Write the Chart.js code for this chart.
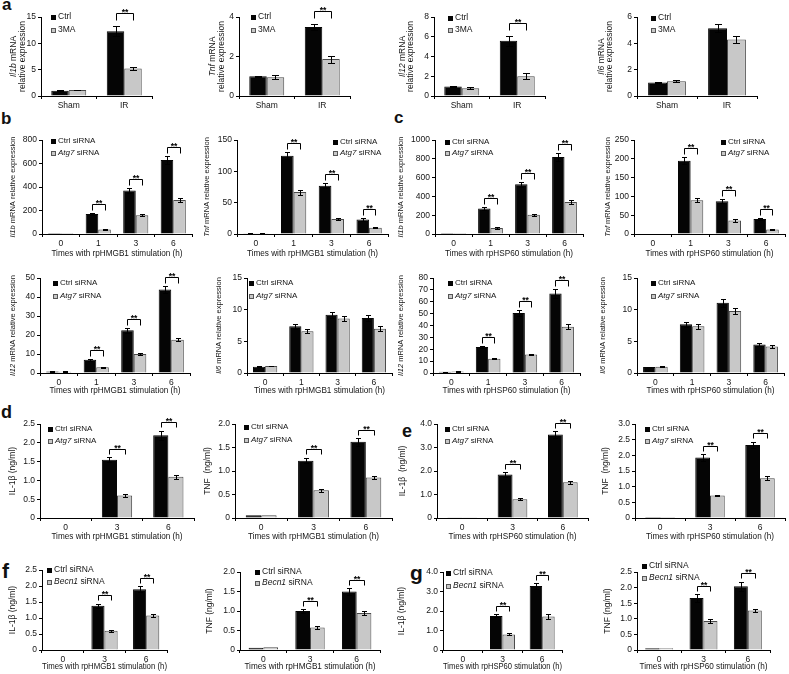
<!DOCTYPE html>
<html lang="en">
<head>
<meta charset="UTF-8">
<title>Cytokine expression panels a-g</title>
<script src="https://cdn.jsdelivr.net/npm/chart.js"></script>
<style>
  html, body { margin: 0; padding: 0; background: #fff; }
  #fig { position: relative; width: 789px; height: 674px; overflow: hidden; background: #fff;
         font-family: "Liberation Sans", Arial, sans-serif; }
  #fig canvas { position: absolute; }
  .tag { position: absolute; font-weight: bold; line-height: 1; color: #111; }
</style>
</head>
<body>
<div id="fig">
  <div class="tag" style="left:2px;top:-4px;font-size:17px">a</div>
  <div class="tag" style="left:1px;top:110px;font-size:17px">b</div>
  <div class="tag" style="left:394px;top:109px;font-size:17px">c</div>
  <div class="tag" style="left:1px;top:403px;font-size:18px">d</div>
  <div class="tag" style="left:402px;top:422px;font-size:18px">e</div>
  <div class="tag" style="left:2px;top:560px;font-size:21px">f</div>
  <div class="tag" style="left:410px;top:562px;font-size:21px">g</div>
</div>
<script>
// categories
const catsIR = ['Sham', 'IR'];
const catsHours = ['0', '1', '3', '6'];
const catsElisa = ['0', '3', '6'];

// legend names (*...* = italic)
const namesA = ['Ctrl', '3MA'];
const namesAtg = ['Ctrl siRNA', '*Atg7* siRNA'];
const namesBecn = ['Ctrl siRNA', '*Becn1* siRNA'];
const hmgb = 'Times with rpHMGB1 stimulation (h)';
const hsp = 'Times with rpHSP60 stimulation (h)';

// a: IR vs sham, Ctrl vs 3MA
const a1Ctrl = [1.0, 12.3], a1CtrlErr = [0.05, 1.0], a1Trt = [1.15, 5.2], a1TrtErr = [0.05, 0.3];
const a2Ctrl = [1.0, 3.5], a2CtrlErr = [0.03, 0.15], a2Trt = [0.95, 1.87], a2TrtErr = [0.1, 0.18];
const a3Ctrl = [0.95, 5.6], a3CtrlErr = [0.05, 0.5], a3Trt = [0.78, 2.0], a3TrtErr = [0.1, 0.28];
const a4Ctrl = [1.02, 5.15], a4CtrlErr = [0.03, 0.3], a4Trt = [1.12, 4.3], a4TrtErr = [0.06, 0.25];

// b / c: mRNA after rpHMGB1 / rpHSP60
const b1Ctrl = [1, 170, 370, 630], b1CtrlErr = [0.1, 10, 20, 30], b1Trt = [1, 38, 160, 290], b1TrtErr = [0.1, 4, 10, 18];
const b2Ctrl = [1, 125, 77, 23], b2CtrlErr = [0.1, 6, 4, 2], b2Trt = [1, 67, 24, 10], b2TrtErr = [0.1, 4, 2, 1];
const c1Ctrl = [1, 270, 530, 820], c1CtrlErr = [0.1, 15, 25, 45], c1Trt = [1, 65, 205, 340], c1TrtErr = [0.1, 8, 12, 20];
const c2Ctrl = [1, 195, 87, 40], c2CtrlErr = [0.1, 10, 5, 3], c2Trt = [1, 90, 36, 12], c2TrtErr = [0.1, 5, 3, 2];
const b3Ctrl = [0.8, 7, 22.5, 44], b3CtrlErr = [0.1, 0.6, 1.2, 2], b3Trt = [0.7, 3, 10, 17.5], b3TrtErr = [0.1, 0.3, 0.5, 0.8];
const b4Ctrl = [1.0, 7.4, 9.2, 8.7], b4CtrlErr = [0.05, 0.4, 0.5, 0.5], b4Trt = [1.1, 6.6, 8.6, 7.0], b4TrtErr = [0.05, 0.3, 0.4, 0.4];
const c3Ctrl = [1.0, 22, 50.5, 67], c3CtrlErr = [0.1, 1, 2.5, 3.5], c3Trt = [1.2, 12, 15.5, 39], c3TrtErr = [0.1, 0.5, 0.7, 2];
const c4Ctrl = [0.95, 7.7, 11.1, 4.5], c4CtrlErr = [0.05, 0.4, 0.6, 0.25], c4Trt = [1.0, 7.4, 9.8, 4.2], c4TrtErr = [0.05, 0.4, 0.5, 0.2];

// d / e / f / g: secreted protein (ng/ml)
const d1Ctrl = [0, 1.55, 2.2], d1CtrlErr = [0, 0.07, 0.12], d1Trt = [0, 0.6, 1.1], d1TrtErr = [0, 0.03, 0.05];
const d2Ctrl = [0.06, 1.22, 1.62], d2CtrlErr = [0, 0.06, 0.08], d2Trt = [0.06, 0.59, 0.86], d2TrtErr = [0, 0.03, 0.04];
const e1Ctrl = [0.03, 1.85, 3.55], e1CtrlErr = [0, 0.1, 0.15], e1Trt = [0.03, 0.8, 1.52], e1TrtErr = [0, 0.04, 0.07];
const e2Ctrl = [0.03, 1.93, 2.33], e2CtrlErr = [0, 0.1, 0.1], e2Trt = [0.03, 0.72, 1.27], e2TrtErr = [0, 0.03, 0.07];
const f1Ctrl = [0, 1.38, 1.9], f1CtrlErr = [0, 0.06, 0.1], f1Trt = [0, 0.6, 1.08], f1TrtErr = [0, 0.03, 0.05];
const f2Ctrl = [0.06, 1.0, 1.5], f2CtrlErr = [0, 0.05, 0.08], f2Trt = [0.07, 0.58, 0.95], f2TrtErr = [0, 0.03, 0.04];
const g1Ctrl = [0.03, 1.75, 3.28], g1CtrlErr = [0, 0.08, 0.15], g1Trt = [0.03, 0.8, 1.72], g1TrtErr = [0, 0.05, 0.15];
const g2Ctrl = [0.06, 1.67, 2.04], g2CtrlErr = [0, 0.12, 0.15], g2Trt = [0.06, 0.93, 1.27], g2TrtErr = [0, 0.05, 0.06];

// y tick labels
const ticksA1 = ['0', '5', '10', '15'];
const ticksA2 = ['0', '2', '4'];
const ticksA3 = ['0', '2', '4', '6', '8'];
const ticksA4 = ['0', '2', '4', '6'];
const ticksB1 = ['0', '200', '400', '600', '800'];
const ticksB2 = ['0', '50', '100', '150'];
const ticksC1 = ['0', '200', '400', '600', '800', '1000'];
const ticksC2 = ['0', '50', '100', '150', '200', '250'];
const ticksB3 = ['0', '10', '20', '30', '40', '50'];
const ticksIl6 = ['0', '5', '10', '15'];
const ticksC3 = ['0', '10', '20', '30', '40', '50', '60', '70', '80'];
const ticks25 = ['0', '0.5', '1.0', '1.5', '2.0', '2.5'];
const ticks20 = ['0', '0.5', '1.0', '1.5', '2.0'];
const ticks40 = ['0', '1.0', '2.0', '3.0', '4.0'];
const ticks30 = ['0', '0.5', '1.0', '1.5', '2.0', '2.5', '3.0'];

const FONT = '"Liberation Sans", Arial, sans-serif';
const TXT = '#151515';
const fig = document.getElementById('fig');

// per-row styling
const rowA = { cp: 0.63, cap: 3.5, gap: 6, legLen: 7, fy: 8.5, fl: 8.5, ft: 8.5, xdy: 0, sig: [1] };
const rowB = { cp: 0.67, cap: 2.5, gap: 3, legLen: 6, fy: 7.5, fl: 8, ft: 8.5, xdy: 20, sig: [1, 2, 3] };
const rowB2 = Object.assign({}, rowB, { xdy: 18 });
const rowD = { cp: 0.59, cap: 2.5, gap: 3.5, legLen: 5, fy: 8.5, fl: 8, ft: 8.5, xdy: 19, sig: [1, 2] };
const rowF = { cp: 0.63, cap: 2.5, gap: 3.5, legLen: 5, fy: 8.5, fl: 8.5, ft: 8.5, xdy: 17, sig: [1, 2] };

function P(style, o) { return Object.assign({}, style, o); }

// box = [y-axis x, x-axis end, top tick y, zero y]; ytx = y-title line x; leg = [marker x, y1, y2]
const panels = [
  P(rowA, { cats: catsIR, d: [a1Ctrl, a1CtrlErr, a1Trt, a1TrtErr], ticks: ticksA1, names: namesA,
    yTitle: ['*Il1b* mRNA', 'relative expression'], box: [41, 152, 17, 96], ytx: [14, 23], leg: [53, 17, 30] }),
  P(rowA, { cats: catsIR, d: [a2Ctrl, a2CtrlErr, a2Trt, a2TrtErr], ticks: ticksA2, names: namesA,
    yTitle: ['*Tnf* mRNA', 'relative expression'], box: [239, 350, 17, 96], ytx: [213, 222], leg: [253, 17, 30] }),
  P(rowA, { cats: catsIR, d: [a3Ctrl, a3CtrlErr, a3Trt, a3TrtErr], ticks: ticksA3, names: namesA,
    yTitle: ['*Il12* mRNA', 'relative expression'], box: [434, 545, 17, 96], ytx: [403, 411], leg: [450, 18, 30] }),
  P(rowA, { cats: catsIR, d: [a4Ctrl, a4CtrlErr, a4Trt, a4TrtErr], ticks: ticksA4, names: namesA, sig: [],
    yTitle: ['*Il6* mRNA', 'relative expression'], box: [637, 757, 17, 96], ytx: [602, 610], leg: [653, 18, 30] }),

  P(rowB, { cats: catsHours, d: [b1Ctrl, b1CtrlErr, b1Trt, b1TrtErr], ticks: ticksB1, names: namesAtg, xTitle: hmgb,
    yTitle: ['*Il1b* mRNA relative expression'], box: [42, 192, 140, 234], ytx: [13], leg: [53, 141, 153] }),
  P(rowB, { cats: catsHours, d: [b2Ctrl, b2CtrlErr, b2Trt, b2TrtErr], ticks: ticksB2, names: namesAtg, xTitle: hmgb,
    yTitle: ['*Tnf* mRNA relative expression'], box: [237, 388, 140, 234], ytx: [207], leg: [335, 142, 153] }),
  P(rowB, { cats: catsHours, d: [c1Ctrl, c1CtrlErr, c1Trt, c1TrtErr], ticks: ticksC1, names: namesAtg, xTitle: hsp,
    yTitle: ['*Il1b* mRNA relative expression'], box: [435, 583, 140, 234], ytx: [401], leg: [447, 142, 153] }),
  P(rowB, { cats: catsHours, d: [c2Ctrl, c2CtrlErr, c2Trt, c2TrtErr], ticks: ticksC2, names: namesAtg, xTitle: hsp,
    yTitle: ['*Tnf* mRNA relative expression'], box: [634, 785, 140, 234], ytx: [608], leg: [723, 142, 153] }),

  P(rowB2, { cats: catsHours, d: [b3Ctrl, b3CtrlErr, b3Trt, b3TrtErr], ticks: ticksB3, names: namesAtg, xTitle: hmgb,
    yTitle: ['*Il12* mRNA relative expression'], box: [40, 190, 278, 373], ytx: [13], leg: [55, 283, 296] }),
  P(rowB2, { cats: catsHours, d: [b4Ctrl, b4CtrlErr, b4Trt, b4TrtErr], ticks: ticksIl6, names: namesAtg, xTitle: hmgb, sig: [],
    yTitle: ['*Il6* mRNA relative expression'], box: [247, 392, 278, 373], ytx: [219], leg: [251, 283, 296] }),
  P(rowB2, { cats: catsHours, d: [c3Ctrl, c3CtrlErr, c3Trt, c3TrtErr], ticks: ticksC3, names: namesAtg, xTitle: hsp,
    yTitle: ['*Il12* mRNA relative expression'], box: [433, 580, 278, 373], ytx: [401], leg: [450, 283, 296] }),
  P(rowB2, { cats: catsHours, d: [c4Ctrl, c4CtrlErr, c4Trt, c4TrtErr], ticks: ticksIl6, names: namesAtg, xTitle: hsp, sig: [],
    yTitle: ['*Il6* mRNA relative expression'], box: [637, 784, 278, 373], ytx: [603], leg: [653, 283, 296] }),

  P(rowD, { cats: catsElisa, d: [d1Ctrl, d1CtrlErr, d1Trt, d1TrtErr], ticks: ticks25, names: namesAtg, xTitle: hmgb,
    yTitle: ['IL-1β (ng/ml)'], box: [40, 194, 424, 518], ytx: [13], leg: [50, 429, 441] }),
  P(rowD, { cats: catsElisa, d: [d2Ctrl, d2CtrlErr, d2Trt, d2TrtErr], ticks: ticks20, names: namesAtg, xTitle: hmgb,
    yTitle: ['TNF  (ng/ml)'], box: [235, 392, 424, 518], ytx: [208], leg: [246, 427, 440] }),
  P(rowD, { cats: catsElisa, d: [e1Ctrl, e1CtrlErr, e1Trt, e1TrtErr], ticks: ticks40, names: namesAtg, xTitle: hsp,
    yTitle: ['IL-1β  (ng/ml)'], box: [437, 588, 424, 518], ytx: [403], leg: [447, 429, 441] }),
  P(rowD, { cats: catsElisa, d: [e2Ctrl, e2CtrlErr, e2Trt, e2TrtErr], ticks: ticks30, names: namesAtg, xTitle: hsp,
    yTitle: ['TNF  (ng/ml)'], box: [635, 785, 424, 518], ytx: [606], leg: [647, 429, 441] }),

  P(rowF, { cats: catsElisa, d: [f1Ctrl, f1CtrlErr, f1Trt, f1TrtErr], ticks: ticks25, names: namesBecn, xTitle: hmgb,
    yTitle: ['IL-1β (ng/ml)'], box: [42, 167, 570, 650], ytx: [13], leg: [49, 570, 582] }),
  P(rowF, { cats: catsElisa, d: [f2Ctrl, f2CtrlErr, f2Trt, f2TrtErr], ticks: ticks20, names: namesBecn, xTitle: hmgb,
    yTitle: ['TNF (ng/ml)'], box: [240, 380, 572, 650], ytx: [210], leg: [257, 572, 583] }),
  P(rowF, { cats: catsElisa, d: [g1Ctrl, g1CtrlErr, g1Trt, g1TrtErr], ticks: ticks40, names: namesBecn, xTitle: hsp,
    yTitle: ['IL-1β (ng/ml)'], box: [443, 562, 572, 650], ytx: [402], leg: [448, 573, 586] }),
  P(rowF, { cats: catsElisa, d: [g2Ctrl, g2CtrlErr, g2Trt, g2TrtErr], ticks: ticks25, names: namesBecn, xTitle: hsp,
    yTitle: ['TNF (ng/ml)'], box: [637, 770, 572, 650], ytx: [608], leg: [644, 566, 578] })
];

function fontStr(size, italic, bold) {
  return (italic ? 'italic ' : '') + (bold ? 'bold ' : '') + size + 'px ' + FONT;
}
function richParts(text) {
  return text.split('*').map((t, i) => ({ t: t, it: i % 2 === 1 })).filter(p => p.t);
}
function drawRich(ctx, text, x, y, size, align) {
  const parts = richParts(text);
  let w = 0;
  parts.forEach(p => { ctx.font = fontStr(size, p.it); w += ctx.measureText(p.t).width; });
  let cx = align === 'center' ? x - w / 2 : x;
  ctx.textAlign = 'left';
  ctx.textBaseline = 'middle';
  parts.forEach(p => {
    ctx.font = fontStr(size, p.it);
    ctx.fillText(p.t, cx, y);
    cx += ctx.measureText(p.t).width;
  });
}

function extras(p, left, ctop) {
  const vals = [p.d[0], p.d[2]], errs = [p.d[1], p.d[3]];
  return {
    id: 'extras',
    afterDatasetsDraw(chart) {
      const ctx = chart.ctx, ys = chart.scales.y;
      ctx.save();
      ctx.strokeStyle = '#000';
      ctx.lineWidth = 1;
      // error bars
      for (let k = 0; k < 2; k++) {
        chart.getDatasetMeta(k).data.forEach((bar, j) => {
          const e = errs[k][j];
          if (!e) return;
          const x = Math.round(bar.x) + 0.5;
          const yt = Math.round(ys.getPixelForValue(vals[k][j] + e)) + 0.5;
          const yb = Math.round(ys.getPixelForValue(vals[k][j] - e)) + 0.5;
          ctx.beginPath();
          ctx.moveTo(x, yt); ctx.lineTo(x, yb);
          ctx.moveTo(x - p.cap, yt); ctx.lineTo(x + p.cap, yt);
          ctx.moveTo(x - p.cap, yb); ctx.lineTo(x + p.cap, yb);
          ctx.stroke();
        });
      }
      // significance brackets
      p.sig.forEach(j => {
        const b0 = chart.getDatasetMeta(0).data[j], b1 = chart.getDatasetMeta(1).data[j];
        const t = Math.min(ys.getPixelForValue(vals[0][j] + errs[0][j]), ys.getPixelForValue(vals[1][j] + errs[1][j]));
        const legB = Math.round(t - p.gap) + 0.5, lineY = legB - p.legLen;
        const x0 = Math.round(b0.x) + 0.5, x1 = Math.round(b1.x) + 0.5;
        ctx.beginPath();
        ctx.moveTo(x0, legB); ctx.lineTo(x0, lineY); ctx.lineTo(x1, lineY); ctx.lineTo(x1, legB);
        ctx.stroke();
        ctx.fillStyle = '#000';
        ctx.font = fontStr(8.5, false, true);
        ctx.textAlign = 'center';
        ctx.textBaseline = 'alphabetic';
        ctx.fillText('**', (x0 + x1) / 2, lineY + 1.5);
      });
      ctx.restore();
    },
    afterDraw(chart) {
      const ctx = chart.ctx;
      ctx.save();
      ctx.fillStyle = TXT;
      const midY = (p.box[2] + p.box[3]) / 2 - ctop;
      p.yTitle.forEach((line, i) => {
        ctx.save();
        ctx.translate(p.ytx[i] - left, midY);
        ctx.rotate(-Math.PI / 2);
        drawRich(ctx, line, 0, 0, p.fy, 'center');
        ctx.restore();
      });
      const mx = p.leg[0] - left;
      [p.leg[1], p.leg[2]].forEach((ly, i) => {
        const sx = Math.round(mx - 2.5), sy = Math.round(ly - ctop - 2.5);
        if (i === 0) {
          ctx.fillStyle = '#050505';
          ctx.fillRect(sx, sy, 5, 5);
        } else {
          ctx.fillStyle = '#c8c8c8';
          ctx.fillRect(sx, sy, 5, 5);
          ctx.strokeStyle = '#555';
          ctx.lineWidth = 1;
          ctx.strokeRect(sx + 0.5, sy + 0.5, 4, 4);
        }
        ctx.fillStyle = TXT;
        drawRich(ctx, chart.data.datasets[i].label, mx + 5, ly - ctop, p.fl, 'left');
      });
      ctx.restore();
    }
  };
}

function makePanel(p) {
  const [ax, ae, top, zero] = p.box;
  const left = Math.max(0, Math.round(Math.min(...p.ytx) - 8));
  const ctop = Math.max(0, Math.min(top, p.leg[1]) - 18);
  const right = ae + 6;
  const bottom = Math.round(zero + (p.xTitle ? p.xdy + 4.8 : 16));
  const xh = bottom - zero;
  const cv = document.createElement('canvas');
  cv.width = right - left;
  cv.height = bottom - ctop;
  cv.style.left = left + 'px';
  cv.style.top = ctop + 'px';
  fig.appendChild(cv);

  const tickVals = p.ticks.map(Number);
  const axisGrid = { display: true, drawOnChartArea: false, drawTicks: true, tickLength: 3, color: '#000', lineWidth: 1 };
  const tickFont = { family: FONT, size: p.ft };

  new Chart(cv, {
    type: 'bar',
    data: {
      labels: p.cats,
      datasets: [
        { label: p.names[0], data: p.d[0], backgroundColor: '#050505', borderColor: '#050505', borderWidth: 1,
          categoryPercentage: p.cp, barPercentage: 1 },
        { label: p.names[1], data: p.d[2], backgroundColor: '#c8c8c8', borderColor: '#4a4a4a', borderWidth: 1,
          categoryPercentage: p.cp, barPercentage: 1 }
      ]
    },
    options: {
      responsive: false,
      animation: false,
      devicePixelRatio: 1,
      layout: { padding: { left: 0, top: top - ctop, right: right - ae, bottom: 0 } },
      plugins: { legend: { display: false }, tooltip: { enabled: false } },
      scales: {
        x: {
          grid: Object.assign({ offset: true }, axisGrid),
          border: { display: true, color: '#000', width: 1 },
          ticks: { color: TXT, font: tickFont, padding: 2, maxRotation: 0, autoSkip: false },
          title: p.xTitle
            ? { display: true, text: p.xTitle, color: TXT, font: { family: FONT, size: 8.2, lineHeight: 1.2 }, padding: 0 }
            : { display: false },
          afterFit: s => { s.height = xh; }
        },
        y: {
          min: 0,
          max: tickVals[tickVals.length - 1],
          grid: axisGrid,
          border: { display: true, color: '#000', width: 1 },
          ticks: { color: TXT, font: tickFont, padding: 2, autoSkip: false,
                   callback: (v, i) => p.ticks[i] },
          afterBuildTicks: s => { s.ticks = tickVals.map(v => ({ value: v })); },
          afterFit: s => { s.width = ax - left; }
        }
      }
    },
    plugins: [extras(p, left, ctop)]
  });
}

panels.forEach(makePanel);
</script>
</body>
</html>
